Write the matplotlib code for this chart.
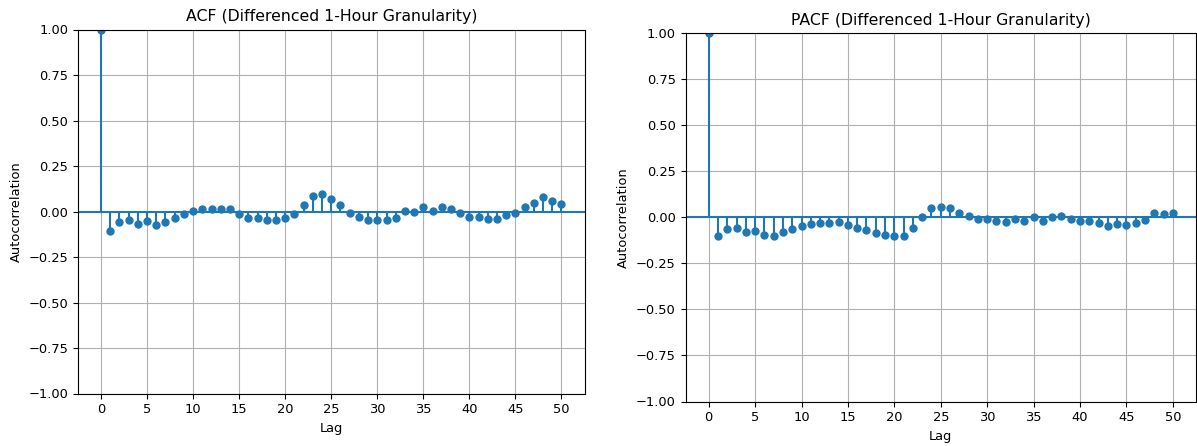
import numpy as np
import matplotlib
matplotlib.use('Agg')
import matplotlib.pyplot as plt

# lags 0..50
lags = np.arange(51)

acf_vals = [1.0,
            -0.105, -0.055, -0.046, -0.066, -0.050, -0.072, -0.060, -0.037, -0.015, 0.005,
            0.014, 0.014, 0.014, 0.014, -0.015, -0.035, -0.035, -0.046, -0.046, -0.033,
            -0.015, 0.035, 0.084, 0.095, 0.068, 0.037, -0.009, -0.030, -0.046, -0.044,
            -0.046, -0.035, 0.005, -0.002, 0.025, 0.005, 0.025, 0.013, -0.009, -0.030,
            -0.030, -0.040, -0.040, -0.020, -0.007, 0.025, 0.049, 0.082, 0.057, 0.042]

pacf_vals = [1.0,
             -0.100, -0.064, -0.060, -0.082, -0.076, -0.096, -0.100, -0.082, -0.066, -0.050,
             -0.037, -0.031, -0.031, -0.024, -0.040, -0.060, -0.069, -0.088, -0.096, -0.100,
             -0.100, -0.060, 0.003, 0.048, 0.056, 0.052, 0.023, 0.005, -0.010, -0.010,
             -0.021, -0.024, -0.007, -0.022, 0.000, -0.022, 0.000, 0.005, -0.010, -0.022,
             -0.018, -0.031, -0.046, -0.035, -0.040, -0.031, -0.013, 0.023, 0.018, 0.023]

titles = ['ACF (Differenced 1-Hour Granularity)', 'PACF (Differenced 1-Hour Granularity)']

plt.rcParams['font.size'] = 9.4
plt.rcParams['axes.titlesize'] = 11.3

W, H = 1197, 446
fig = plt.figure(figsize=(W / 100, H / 100), dpi=100)

# axes boxes in pixels: (left, top, right, bottom)
boxes = [(78, 29.5, 584.5, 393.5), (685.5, 33, 1196, 401.5)]


def stem_plot(ax, vals, title):
    ax.vlines(lags, 0, vals, color='C0')
    ax.axhline(0, color='C0')
    ax.plot(lags, vals, marker='o', markersize=5, linestyle='None', color='C0')
    ax.margins(0.05)
    ax.set_ylim(-1, 1)
    ticks = np.arange(-1, 1.01, 0.25)
    ax.set_yticks(ticks)
    ax.set_yticklabels([f'{v:.2f}'.replace('-', '\u2212') for v in ticks])
    ax.set_xticks(np.arange(0, 51, 5))
    ax.grid(True)
    ax.set_title(title)
    ax.set_xlabel('Lag')
    ax.set_ylabel('Autocorrelation')


for (l, t, r, b), vals, title in zip(boxes, [acf_vals, pacf_vals], titles):
    ax = fig.add_axes([l / W, 1 - b / H, (r - l) / W, (b - t) / H])
    stem_plot(ax, vals, title)

fig.savefig('out.png', dpi=100)
